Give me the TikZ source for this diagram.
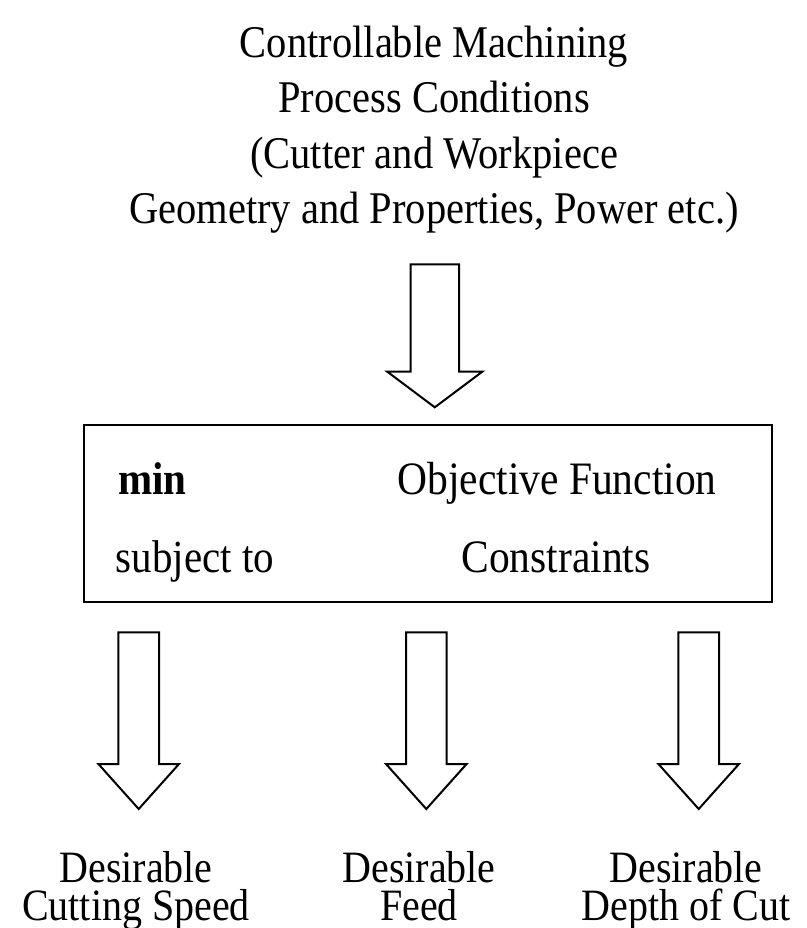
\documentclass[tikz,border=0pt]{standalone}
\usepackage{fontspec}
\setmainfont{Liberation Serif}
\newcommand\blockarrowdown[6]{% cx, ytop, halfshaft, ybase, halfhead, ytip
  \draw[barrow] (#1-#3,#2) -- (#1+#3,#2) -- (#1+#3,#4) -- (#1+#5,#4) -- (#1,#6)
    -- (#1-#5,#4) -- (#1-#3,#4) -- cycle;}
\newcommand\tallt[1]{\scalebox{1}[1.12]{#1}}
\begin{document}
\begin{tikzpicture}[x=1pt,y=-1pt,
  lbl/.style={inner sep=0pt, anchor=base, font=\fontsize{40.5}{48}\selectfont},
  lblw/.style={inner sep=0pt, anchor=base west, font=\fontsize{41}{48}\selectfont},
  blbl/.style={inner sep=0pt, anchor=base, align=center, font=\fontsize{40}{38}\selectfont},
  barrow/.style={draw=black, fill=white, line width=2pt, line join=miter},
  frame/.style={draw=black, line width=2.3pt, inner sep=0pt, anchor=north west}]
\useasboundingbox (0,0) rectangle (806,928);
% top text
\node[lbl] (t1) at (434,58) {\tallt{Controllable Machining}};
\node[lbl] (t2) at (434,113) {\tallt{Process Conditions}};
\node[lbl] (t3) at (434,168) {\tallt{(Cutter and Workpiece}};
\node[lbl] (t4) at (434,223) {\tallt{Geometry and Properties, Power etc.)}};
% top arrow
\blockarrowdown{434.8}{264.3}{24.2}{371.7}{47.5}{407.3}
% box
\node[frame, minimum width=688.5pt, minimum height=177pt] (box) at (82.5,424) {};
\node[lblw] (min) at (118,494) {\tallt{\bfseries min}};
\node[lbl, font=\fontsize{41.5}{48}\selectfont] (obj) at (557,494) {\tallt{Objective Function}};
\node[lblw] (subj) at (115.5,572) {\tallt{subject to}};
\node[lbl, font=\fontsize{41.5}{48}\selectfont] (con) at (556,572) {\tallt{Constraints}};
% bottom arrows
\blockarrowdown{138.7}{632.3}{20.3}{764}{40.3}{809}
\blockarrowdown{426.3}{632.3}{20.3}{764}{40.3}{809}
\blockarrowdown{698.7}{632.3}{20.3}{764}{40.3}{809}
% bottom labels (two lines each; anchor=base is the last line's baseline)
\node[blbl] (o1) at (136,920) {\tallt{Desirable}\\\tallt{Cutting Speed}};
\node[blbl] (o2) at (419,920) {\tallt{Desirable}\\\tallt{Feed}};
\node[blbl] (o3) at (686,920) {\tallt{Desirable}\\\tallt{Depth of Cut}};
\end{tikzpicture}
\end{document}
